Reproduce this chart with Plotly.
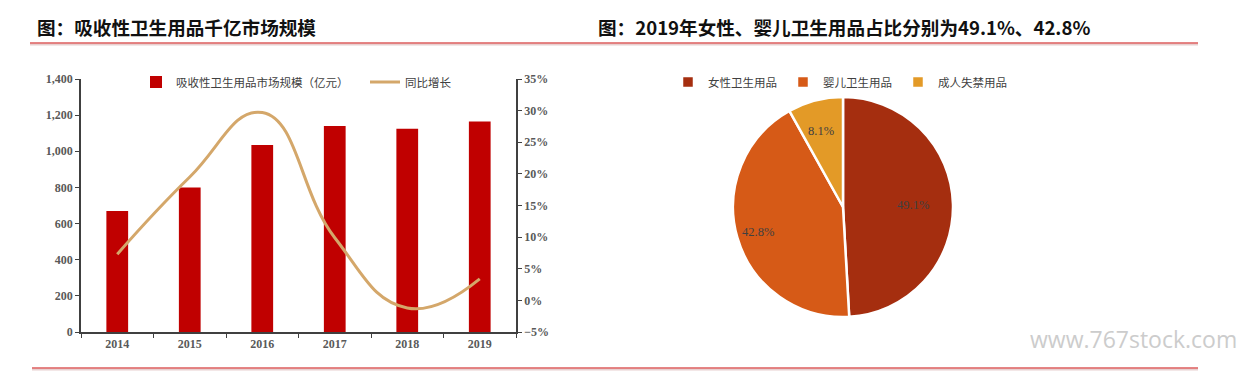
import math
import plotly.graph_objects as go

# ---- data ----
years = ["2014", "2015", "2016", "2017", "2018", "2019"]
market_size = [670, 800, 1035, 1140, 1125, 1165]          # 亿元
yoy_growth = [7.3, 19.5, 29.7, 9.9, -1.2, 3.4]             # %
pie_labels = ["女性卫生用品", "婴儿卫生用品", "成人失禁用品"]
pie_values = [49.1, 42.8, 8.1]
pie_colors = ["#A52E0F", "#D65A17", "#E39A27"]

W, H = 1248, 374
def px(x):
    return x / W
def py(y):
    return 1 - y / H

tick_font = dict(family="Liberation Serif", size=12, color="#595959", weight="bold")
cjk = "Noto Sans CJK SC"

fig = go.Figure()
fig.add_trace(go.Bar(
    x=years, y=market_size, name="吸收性卫生用品市场规模（亿元）",
    marker=dict(color="#C00000", line=dict(width=0)), width=0.3,
    xaxis="x", yaxis="y", legend="legend",
))
fig.add_trace(go.Scatter(
    x=years, y=yoy_growth, name="同比增长", mode="lines",
    line=dict(color="#D4A76A", width=3, shape="spline", smoothing=1.3),
    xaxis="x", yaxis="y2", legend="legend",
))

# pie
cx, cy, R = 843, 207, 110
fig.add_trace(go.Pie(
    labels=pie_labels, values=pie_values, sort=False, direction="clockwise",
    marker=dict(colors=pie_colors, line=dict(color="white", width=2.5)),
    textinfo="none", hoverinfo="label+percent",
    domain=dict(x=[px(cx - R), px(cx + R)], y=[py(cy + R), py(cy - R)]),
    legend="legend2",
))

annotations = []
total = sum(pie_values)
cum = 0
for v in pie_values:
    mid = (cum + v / 2) / total
    cum += v
    th = 2 * math.pi * mid
    r = 0.8 * R
    ax = cx + r * math.sin(th)
    ay = cy - r * math.cos(th)
    annotations.append(dict(
        x=px(ax), y=py(ay), xref="paper", yref="paper", showarrow=False,
        text=f"{v:.1f}%", font=dict(family="Liberation Serif", size=12.5, color="#404040"),
    ))

# titles
annotations.append(dict(x=px(35), y=py(26), xref="paper", yref="paper", xanchor="left",
                        yanchor="middle", showarrow=False,
                        text="<b>图：吸收性卫生用品千亿市场规模</b>",
                        font=dict(family=cjk, size=18.6, color="#111111")))
annotations.append(dict(x=px(596), y=py(26), xref="paper", yref="paper", xanchor="left",
                        yanchor="middle", showarrow=False,
                        text="<b>图：2019年女性、婴儿卫生用品占比分别为49.1%、42.8%</b>",
                        font=dict(family=cjk, size=18.6, color="#111111")))
annotations.append(dict(x=px(1028), y=py(339), xref="paper", yref="paper", xanchor="left",
                        yanchor="middle", showarrow=False, text="www.767stock.com",
                        font=dict(family="Open Sans", size=23, color="#CCCCCC")))

shapes = [
    dict(type="line", xref="paper", yref="paper", x0=px(30), x1=px(1198), y0=py(44), y1=py(44),
         line=dict(color="#E8D0D0", width=3)),
    dict(type="line", xref="paper", yref="paper", x0=px(30), x1=px(1198), y0=py(43), y1=py(43),
         line=dict(color="#E06464", width=1.5)),
    dict(type="line", xref="paper", yref="paper", x0=px(32), x1=px(1198), y0=py(369), y1=py(369),
         line=dict(color="#E8D0D0", width=3)),
    dict(type="line", xref="paper", yref="paper", x0=px(32), x1=px(1198), y0=py(368), y1=py(368),
         line=dict(color="#E06464", width=1.5)),
]

fig.update_layout(
    width=W, height=H, margin=dict(l=0, r=0, t=0, b=0, pad=0, autoexpand=False),
    paper_bgcolor="white", plot_bgcolor="white",
    bargap=0.7,
    xaxis=dict(domain=[px(81), px(516)], type="category", showgrid=False, automargin=False,
               showline=True, linecolor="#404040", linewidth=1.5,
               ticks="outside", tickson="boundaries", ticklen=4, tickcolor="#404040",
               tickfont=tick_font, anchor="y"),
    yaxis=dict(domain=[py(332), py(79)], range=[0, 1400], dtick=200, tickformat=",",
               showgrid=False, zeroline=False, showline=True, linecolor="#404040",
               linewidth=1.5, ticks="outside", ticklen=4, tickcolor="#404040",
               tickfont=tick_font, anchor="x", automargin=False),
    yaxis2=dict(domain=[py(332), py(79)], range=[-5, 35], dtick=5, ticksuffix="%",
                overlaying="y", side="right", showgrid=False, zeroline=False,
                showline=True, linecolor="#404040", linewidth=1.5, ticks="outside",
                ticklen=4, tickcolor="#404040", tickfont=tick_font, anchor="x",
                automargin=False),
    legend=dict(orientation="h", x=px(136), y=py(82), xanchor="left", yanchor="middle",
                font=dict(family=cjk, size=11.5, color="#404040"),
                bgcolor="rgba(0,0,0,0)", itemwidth=30, entrywidth=184,
                entrywidthmode="pixels"),
    legend2=dict(orientation="h", x=px(668), y=py(82), xanchor="left", yanchor="middle",
                 font=dict(family=cjk, size=11.5, color="#404040"),
                 bgcolor="rgba(0,0,0,0)", itemwidth=30, entrywidth=70,
                 entrywidthmode="pixels"),
    annotations=annotations, shapes=shapes,
)

fig.write_html("out.html", config={"displayModeBar": False},
               post_script="document.body.style.margin='0';document.body.style.overflow='hidden';")
